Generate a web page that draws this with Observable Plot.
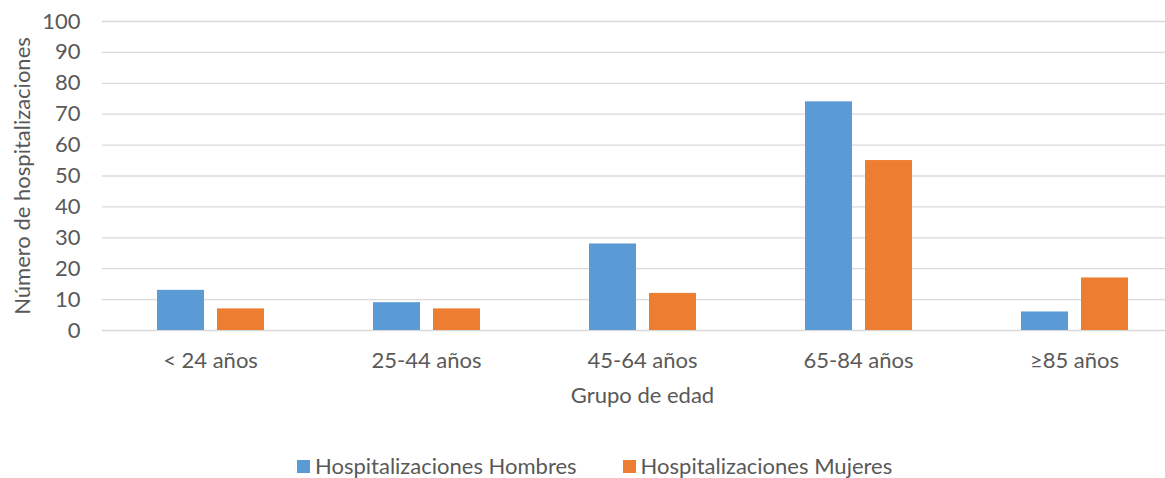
<!DOCTYPE html>
<html>
<head>
<meta charset="utf-8">
<script src="https://cdn.jsdelivr.net/npm/d3@7"></script>
<script src="https://cdn.jsdelivr.net/npm/@observablehq/plot@0.6"></script>
<style>
  body { margin: 0; background: #fff; font-family: Lato, "Open Sans", sans-serif; overflow: hidden; }
  #chart svg { display: block; }
  #legend { display: flex; align-items: center; height: 24px; line-height: 24px; margin-top: 14px; padding-left: 297px; color: #595959; font-size: 22px; }
  .item { display: flex; align-items: center; margin-right: 46px; }
  .sw { width: 13px; height: 13px; margin-right: 5px; }
</style>
</head>
<body>
<div id="chart"></div>
<div id="legend"></div>
<script>
const categories = ["< 24 años", "25-44 años", "45-64 años", "65-84 años", "≥85 años"];
const hombres = [13, 9, 28, 74, 6];
const mujeres = [7, 7, 12, 55, 17];
const series = ["Hospitalizaciones Hombres", "Hospitalizaciones Mujeres"];
const colors = ["#5B9BD5", "#ED7D31"];
const yTicks = [0, 10, 20, 30, 40, 50, 60, 70, 80, 90, 100];

const data = [];
categories.forEach((c, i) => {
  data.push({cat: c, serie: series[0], v: hombres[i]});
  data.push({cat: c, serie: series[1], v: mujeres[i]});
});

const chart = Plot.plot({
  width: 1165,
  height: 440,
  marginTop: 21,
  marginBottom: 110,
  marginLeft: 102,
  marginRight: 0,
  style: {fontFamily: "Lato, 'Open Sans', sans-serif", fontSize: "22px", color: "#595959", background: "#fff"},
  fx: {domain: categories, range: [102, 1182], padding: 0, axis: null},
  x: {domain: series, range: [156, 265], paddingInner: 0.213, paddingOuter: 0, axis: null},
  y: {domain: [0, 100], axis: null},
  color: {domain: series, range: colors},
  marks: [
    Plot.ruleY(yTicks, {y: d => d, stroke: "#d9d9d9", strokeWidth: 1.3}),
    Plot.barY(data, {fx: "cat", x: "serie", y: "v", fill: "serie"}),
    Plot.axisY(yTicks, {tickSize: 0, tickPadding: 22, fontSize: 22, label: "Número de hospitalizaciones", labelArrow: "none", labelAnchor: "center", labelOffset: 88, fill: "#595959"}),
    Plot.axisFx({anchor: "bottom", tickSize: 0, tickPadding: 22, fontSize: 22, label: "Grupo de edad", labelArrow: "none", labelAnchor: "center", labelOffset: 72, fill: "#595959"})
  ]
});
document.getElementById("chart").appendChild(chart);

const legend = document.getElementById("legend");
series.forEach((s, i) => {
  const it = document.createElement("div");
  it.className = "item";
  const sw = document.createElement("div");
  sw.className = "sw";
  sw.style.background = colors[i];
  const t = document.createElement("span");
  t.textContent = s;
  it.appendChild(sw);
  it.appendChild(t);
  legend.appendChild(it);
});
</script>
</body>
</html>
